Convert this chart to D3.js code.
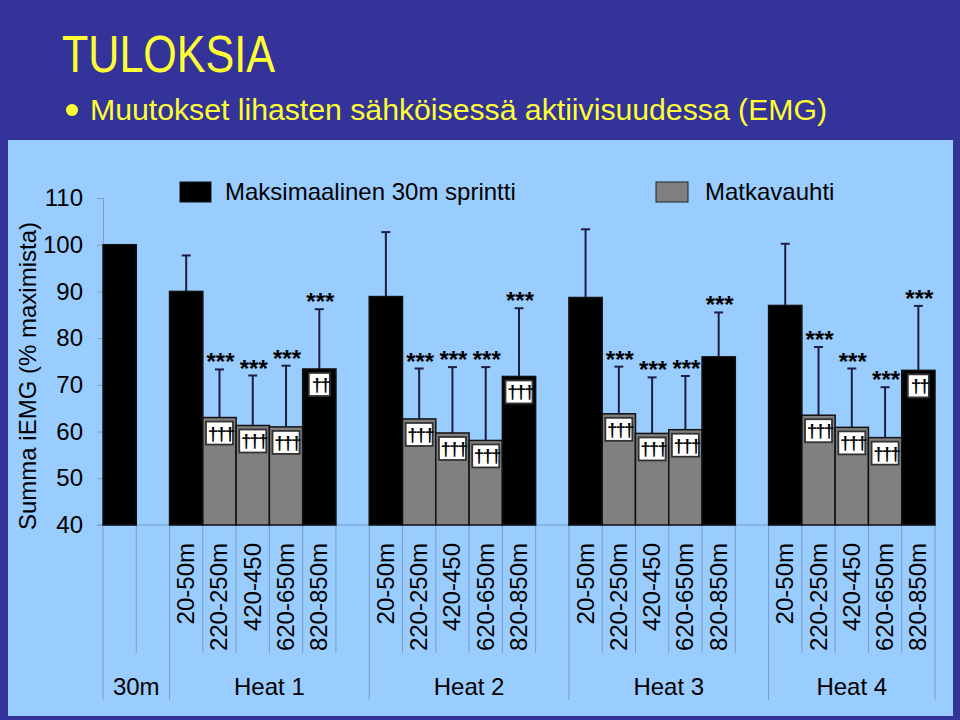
<!DOCTYPE html>
<html>
<head>
<meta charset="utf-8">
<script src="https://cdn.jsdelivr.net/npm/d3@7"></script>
<style>
html,body{margin:0;padding:0;background:#333399;}
svg{display:block;}
</style>
</head>
<body>
<svg id="chart" width="960" height="720"></svg>
<script>
// ---------- data ----------
const title = "TULOKSIA";
const subtitle = "Muutokset lihasten sähköisessä aktiivisuudessa (EMG)";
const yTitle = "Summa iEMG (% maximista)";
const legendLabels = ["Maksimaalinen 30m sprintti", "Matkavauhti"];

const categories = [
  "30m", "",
  "20-50m", "220-250m", "420-450", "620-650m", "820-850m", "",
  "20-50m", "220-250m", "420-450", "620-650m", "820-850m", "",
  "20-50m", "220-250m", "420-450", "620-650m", "820-850m", "",
  "20-50m", "220-250m", "420-450", "620-650m", "820-850m"
];
// which series each bar belongs to: "S" = sprint (black), "P" = pace (grey)
const series = [
  "S", null,
  "S", "P", "P", "P", "S", null,
  "S", "P", "P", "P", "S", null,
  "S", "P", "P", "P", "S", null,
  "S", "P", "P", "P", "S"
];
const values = [
  100, null,
  90.0, 63.0, 61.3, 61.0, 73.4, null,
  88.9, 62.7, 59.7, 58.1, 71.8, null,
  88.7, 63.8, 59.6, 60.4, 76.0, null,
  87.0, 63.5, 60.9, 58.7, 73.1
];
const errors = [
  null, null,
  7.7, 10.3, 10.7, 13.1, 12.8, null,
  13.8, 10.8, 14.1, 15.7, 14.6, null,
  14.6, 10.1, 12.0, 11.5, 9.5, null,
  13.2, 14.6, 12.6, 10.8, 13.8
];
const stars = [
  "", "",
  "", "***", "***", "***", "***", "",
  "", "***", "***", "***", "***", "",
  "", "***", "***", "***", "***", "",
  "", "***", "***", "***", "***"
];
const daggers = [
  "", "",
  "", "†††", "†††", "†††", "††", "",
  "", "†††", "†††", "†††", "†††", "",
  "", "†††", "†††", "†††", "", "",
  "", "†††", "†††", "†††", "††"
];
const groupLabels = ["30m", "Heat 1", "Heat 2", "Heat 3", "Heat 4"];
const groupStart = [0, 2, 8, 14, 20];
const groupEnd = [2, 8, 14, 20, 25];
const yTicks = [40, 50, 60, 70, 80, 90, 100, 110];
const yDomain = [40, 110];

// ---------- drawing ----------
const svg = d3.select("#chart");
const FONT = "'Liberation Sans', Arial, Helvetica, sans-serif";
const colors = {S: "#000000", P: "#808080"};
const axisColor = "#7c9cc8";
const errColor = "#1e1e40";

svg.append("rect").attr("x", 0).attr("y", 0).attr("width", 960).attr("height", 720).attr("fill", "#333399");
svg.append("rect").attr("x", 8).attr("y", 140).attr("width", 945).attr("height", 576).attr("fill", "#99ccff");

// header
svg.append("text").attr("x", 62).attr("y", 72)
  .attr("font-family", FONT).attr("font-size", 51).attr("fill", "#ffff33")
  .attr("textLength", 213).attr("lengthAdjust", "spacingAndGlyphs")
  .text(title);
svg.append("circle").attr("cx", 72).attr("cy", 110).attr("r", 6).attr("fill", "#ffff33");
svg.append("text").attr("x", 90).attr("y", 120)
  .attr("font-family", FONT).attr("font-size", 29).attr("fill", "#ffff33")
  .attr("textLength", 737).attr("lengthAdjust", "spacingAndGlyphs")
  .text(subtitle);

const x = d3.scaleBand().domain(d3.range(categories.length)).range([103, 935]).padding(0);
const y = d3.scaleLinear().domain(yDomain).range([525, 198]);
const bw = x.bandwidth();

// y axis
const yAxis = d3.axisLeft(y).tickValues(yTicks).tickSize(6).tickPadding(14).tickSizeOuter(0);
const gy = svg.append("g").attr("transform", "translate(103,0)").call(yAxis);
gy.select(".domain").attr("stroke", axisColor);
gy.selectAll(".tick line").attr("stroke", axisColor);
gy.selectAll(".tick text").attr("font-family", FONT).attr("font-size", 24).attr("fill", "#000");

svg.append("text")
  .attr("transform", "translate(27,376) rotate(-90)")
  .attr("text-anchor", "middle").attr("dominant-baseline", "central")
  .attr("font-family", FONT).attr("font-size", 24).attr("fill", "#000")
  .text(yTitle);

// x axis baseline
svg.append("line").attr("x1", 97).attr("x2", 935).attr("y1", y(40)).attr("y2", y(40)).attr("stroke", axisColor);

// category separator lines
const bounds = d3.range(categories.length + 1);
svg.append("g").selectAll("line").data(bounds).join("line")
  .attr("x1", i => i < categories.length ? x(i) : x(categories.length - 1) + bw)
  .attr("x2", i => i < categories.length ? x(i) : x(categories.length - 1) + bw)
  .attr("y1", y(40))
  .attr("y2", i => (groupStart.includes(i) || i === categories.length) ? 700 : 653)
  .attr("stroke", axisColor).attr("stroke-width", 1);

// category labels
svg.append("g").selectAll("text").data(d3.range(categories.length).filter(i => categories[i] && i > 1)).join("text")
  .attr("transform", i => `translate(${x(i) + bw / 2 + 8},543) rotate(-90)`)
  .attr("text-anchor", "end")
  .attr("font-family", FONT).attr("font-size", 24).attr("fill", "#000")
  .text(i => categories[i]);

// group labels
svg.append("g").selectAll("text").data(groupLabels).join("text")
  .attr("x", (d, k) => (x(groupStart[k]) + x(groupEnd[k] - 1) + bw) / 2)
  .attr("y", 695)
  .attr("text-anchor", "middle")
  .attr("font-family", FONT).attr("font-size", 24).attr("fill", "#000")
  .text(d => d);

const idx = d3.range(categories.length).filter(i => values[i] != null);

// error bars (drawn behind bars)
const eb = svg.append("g");
idx.filter(i => errors[i] != null).forEach(i => {
  const cx = x(i) + bw / 2;
  eb.append("line").attr("x1", cx).attr("x2", cx).attr("y1", y(values[i])).attr("y2", y(values[i] + errors[i]))
    .attr("stroke", errColor).attr("stroke-width", 2);
  eb.append("line").attr("x1", cx - 4.5).attr("x2", cx + 4.5).attr("y1", y(values[i] + errors[i])).attr("y2", y(values[i] + errors[i]))
    .attr("stroke", errColor).attr("stroke-width", 2);
});

// bars
svg.append("g").selectAll("rect").data(idx).join("rect")
  .attr("x", i => x(i))
  .attr("y", i => y(values[i]))
  .attr("width", bw)
  .attr("height", i => y(40) - y(values[i]))
  .attr("fill", i => colors[series[i]])
  .attr("stroke", "#111").attr("stroke-width", 1.5);

// stars
svg.append("g").selectAll("text").data(idx.filter(i => stars[i])).join("text")
  .attr("x", i => x(i) + bw / 2 + 1)
  .attr("y", i => y(values[i] + errors[i]) + 1)
  .attr("text-anchor", "middle")
  .attr("font-family", FONT).attr("font-size", 24).attr("font-weight", "bold").attr("fill", "#000")
  .text(i => stars[i]);

// dagger boxes
const dg = svg.append("g");
idx.filter(i => daggers[i]).forEach(i => {
  const cx = x(i) + bw / 2;
  const w = daggers[i].length === 3 ? 27 : 21;
  const top = y(values[i]) + 4;
  dg.append("rect").attr("x", cx - w / 2).attr("y", top).attr("width", w).attr("height", 23)
    .attr("fill", "#fff").attr("stroke", "#333").attr("stroke-width", 1.8);
  dg.append("text").attr("x", cx + 1).attr("y", top + 18)
    .attr("text-anchor", "middle")
    .attr("font-family", FONT).attr("font-size", 19).attr("font-weight", "bold")
    .attr("letter-spacing", -2).attr("fill", "#000")
    .text(daggers[i]);
});

// legend
svg.append("rect").attr("x", 180).attr("y", 182).attr("width", 31).attr("height", 20).attr("fill", "#000").attr("stroke", "#111");
svg.append("text").attr("x", 225).attr("y", 200).attr("font-family", FONT).attr("font-size", 24).attr("fill", "#000").text(legendLabels[0]);
svg.append("rect").attr("x", 656).attr("y", 182).attr("width", 32).attr("height", 20).attr("fill", "#808080").attr("stroke", "#222");
svg.append("text").attr("x", 705).attr("y", 200).attr("font-family", FONT).attr("font-size", 24).attr("fill", "#000").text(legendLabels[1]);
</script>
</body>
</html>
